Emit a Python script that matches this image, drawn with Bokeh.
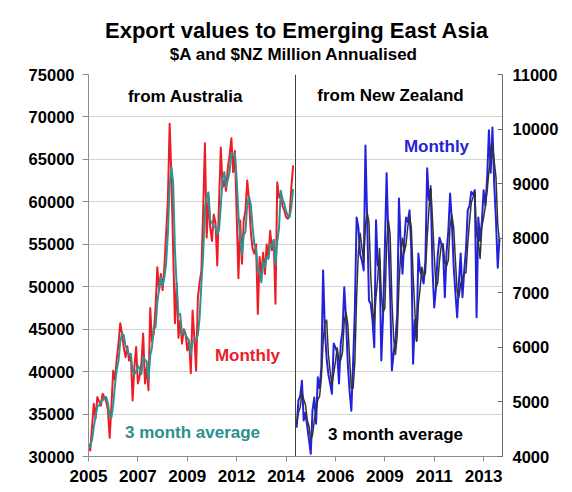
from bokeh.plotting import figure
from bokeh.layouts import column
from bokeh.models import Range1d, LinearAxis, FixedTicker, Span, Label
from bokeh.embed import file_html
from bokeh.resources import INLINE

# ---------------- data ----------------
# Australia: monthly exports to Emerging East Asia, $A million annualised, from Jan 2005
au_monthly = [31500, 30700, 33500, 36200, 34500, 37000, 36500, 36000, 37400, 37000,
              36500, 35500, 32200, 36000, 40100, 39000, 41500, 43300, 45700, 44500,
              42800, 41700, 43000, 41300, 42000, 36600, 40500, 42900, 38600, 39500,
              41000, 44500, 38600, 40500, 37800, 47500, 43500, 44500, 47500, 52300,
              49500, 51500, 49600, 52300, 56300, 60200, 69200, 63000, 54300, 45700,
              50400, 44000, 46000, 43300, 45000, 44500, 42500, 43700, 39800, 47200,
              44000, 40100, 48700, 50500, 51900, 59000, 66900, 55800, 60500, 57000,
              55400, 58500, 57500, 52500, 60000, 66400, 61700, 62500, 61300, 64000,
              65500, 67500, 63500, 66000, 58500, 51000, 57800, 52700, 57800, 59000,
              62500, 60200, 56500, 54500, 53900, 55000, 46800, 53500, 51300, 54000,
              51500, 55000, 53500, 56600, 54300, 55500, 48000, 62300, 60500, 61000,
              59500, 59000, 58200, 58000, 58500, 61700, 64300]
au_avg3 = [31000, 31200, 32000, 33500, 34700, 35900, 36000, 36500, 36600, 37000,
           37000, 36300, 34700, 34600, 36100, 38400, 40200, 41300, 43500, 44500,
           44300, 43000, 42500, 42000, 42100, 40000, 39700, 40000, 40700, 40300,
           39700, 41700, 41400, 41200, 39000, 41900, 42900, 45200, 45200, 48100,
           49800, 51100, 50100, 51100, 52700, 56300, 61900, 64100, 62200, 54300,
           50100, 46700, 46800, 44400, 44800, 44300, 44000, 43600, 42000, 43600,
           43700, 43800, 44300, 46400, 50400, 53800, 59300, 60600, 61100, 57800,
           57600, 57000, 57100, 56200, 56700, 59600, 62700, 63500, 61800, 62600,
           63600, 65700, 65500, 65700, 62700, 58500, 55800, 53800, 56100, 56500,
           59800, 60600, 59700, 57100, 55000, 54500, 51900, 51800, 50500, 52900,
           52300, 53500, 53300, 55000, 54800, 55500, 52600, 55300, 56900, 61300,
           60300, 59800, 58900, 58400, 58200, 59400, 61500]

# New Zealand: monthly exports to Emerging East Asia, $NZ million annualised
nz_monthly = [4530, 5030, 5100, 5390, 4660, 4800, 4550, 4300, 4050, 4850,
              5080, 4600, 5450, 5250, 5630, 7410, 6310, 5800, 5500, 5340,
              5150, 6070, 6000, 5900, 5340, 6070, 6310, 7100, 6500, 5700,
              5200, 4840, 5700, 6680, 8380, 8200, 7700, 7590, 7410, 9700,
              8300, 6860, 6800, 6500, 6000, 8330, 7500, 7600, 5760, 6600,
              7800, 9190, 8000, 6990, 5580, 5900, 6130, 6600, 8730, 7900,
              7350, 7950, 8380, 8300, 8510, 7800, 5700, 6500, 6130, 7720,
              7400, 7300, 7170, 7600, 9280, 8700, 8900, 7460, 6730, 7100,
              7700, 8010, 7900, 7800, 6920, 7750, 8140, 8820, 8300, 7500,
              7000, 6550, 7200, 7720, 6920, 7400, 7800, 8510, 8600, 8850,
              8800, 8880, 6550, 8380, 7950, 8300, 8880, 8600, 9100, 9980,
              9200, 10030, 9000, 8330, 7460, 8010]
nz_avg3 = [4600, 4800, 4900, 5170, 5050, 4950, 4670, 4550, 4300, 4400,
           4660, 4840, 5040, 5100, 5440, 6100, 6450, 6500, 5870, 5550,
           5330, 5520, 5740, 5990, 5750, 5770, 5910, 6490, 6640, 6430,
           5800, 5250, 5250, 5740, 6920, 7750, 8090, 7830, 7570, 8230,
           8470, 8290, 7320, 6720, 6430, 6940, 7280, 7810, 6950, 6650,
           6720, 7860, 8330, 8060, 6860, 6160, 5870, 6210, 7150, 7740,
           8000, 7730, 7890, 8210, 8400, 8200, 7340, 6670, 6110, 6780,
           7080, 7470, 7290, 7360, 8020, 8530, 8960, 8350, 7700, 7100,
           7180, 7600, 7870, 7900, 7540, 7490, 7600, 8240, 8420, 8210,
           7600, 7020, 6920, 7160, 7280, 7350, 7370, 7900, 8300, 8650,
           8750, 8840, 8080, 7940, 7630, 8210, 8380, 8590, 8860, 9230,
           9430, 9740, 9410, 9120, 8260, 7930]

# x-axis tick labels (one label every 28 months, both panels share one category axis)
x_ticks = [0, 28, 56, 84, 112, 140, 168, 196, 224]
x_tick_labels = ["2005", "2007", "2009", "2012", "2014", "2006", "2009", "2011", "2013"]
au_y_ticks = [30000, 35000, 40000, 45000, 50000, 55000, 60000, 65000, 70000, 75000]
nz_y_ticks = [4000, 5000, 6000, 7000, 8000, 9000, 10000, 11000]

title_text = "Export values to Emerging East Asia"
subtitle_text = "$A and $NZ Million Annualised"

NZ_OFFSET = 118          # month slot where the NZ panel starts
DIVIDER = 117.35         # panel divider position on the shared category axis

au_x = list(range(len(au_monthly)))
nz_x = [NZ_OFFSET + i for i in range(len(nz_monthly))]

FONT = "Liberation Sans"

# ---------------- title strip ----------------
TH = 64
tf = figure(width=572, height=TH, output_backend="svg", toolbar_location=None,
            x_range=Range1d(0, 572), y_range=Range1d(TH, 0), title=None,
            x_axis_location=None, y_axis_location=None, min_border=0)
tf.grid.visible = False
tf.outline_line_color = None
tf.background_fill_color = "white"
tf.border_fill_color = "white"
tf.add_layout(Label(x=288, y=30, text=title_text, text_color="black", text_font=FONT,
                    text_font_style="bold", text_font_size="22px",
                    text_align="center", text_baseline="alphabetic"))
tf.add_layout(Label(x=284, y=54, text=subtitle_text, text_color="black", text_font=FONT,
                    text_font_style="bold", text_font_size="17px",
                    text_align="center", text_baseline="alphabetic"))

# ---------------- main figure ----------------
p = figure(width=572, height=492 - TH, output_backend="svg", toolbar_location=None,
           x_range=Range1d(0, 234.7), y_range=Range1d(30000, 75000), title=None,
           min_border_left=88, min_border_right=70, min_border_top=74 - TH,
           min_border_bottom=36)
p.background_fill_color = "white"
p.border_fill_color = "white"
p.outline_line_color = None
p.extra_y_ranges = {"nz": Range1d(4000, 11000)}

# grid
p.xgrid.visible = False
p.ygrid.grid_line_color = "#D4D4D4"
p.ygrid.grid_line_width = 1
p.ygrid.ticker = FixedTicker(ticks=au_y_ticks)

# left axis
ya = p.yaxis[0]
ya.ticker = FixedTicker(ticks=au_y_ticks)
ya.axis_line_color = "#8C8C8C"
ya.major_tick_line_color = "#8C8C8C"
ya.major_tick_out = 6
ya.major_tick_in = 0
ya.minor_tick_line_color = None
ya.major_label_standoff = 8
ya.major_label_text_font = FONT
ya.major_label_text_font_style = "bold"
ya.major_label_text_font_size = "16.5px"
ya.major_label_text_color = "black"

# bottom axis
xa = p.xaxis[0]
xa.ticker = FixedTicker(ticks=x_ticks)
xa.major_label_overrides = {t: lab for t, lab in zip(x_ticks, x_tick_labels)}
xa.axis_line_color = "#8C8C8C"
xa.major_tick_line_color = "#8C8C8C"
xa.major_tick_out = 5
xa.major_tick_in = 0
xa.minor_tick_line_color = None
xa.major_label_standoff = 8
xa.major_label_text_font = FONT
xa.major_label_text_font_style = "bold"
xa.major_label_text_font_size = "17px"
xa.major_label_text_color = "black"

# right axis (NZ)
ra = LinearAxis(y_range_name="nz", ticker=FixedTicker(ticks=nz_y_ticks))
ra.axis_line_color = "#6E6E6E"
ra.major_tick_line_color = "#6E6E6E"
ra.major_tick_in = 5
ra.major_tick_out = 0
ra.minor_tick_line_color = None
ra.major_label_standoff = 10
ra.major_label_text_font = FONT
ra.major_label_text_font_style = "bold"
ra.major_label_text_font_size = "16.5px"
ra.major_label_text_color = "black"
p.add_layout(ra, "right")

# divider between panels
p.add_layout(Span(location=DIVIDER, dimension="height", line_color="#404040", line_width=1))

# series
p.line(au_x, au_monthly, line_color="#EE1C25", line_width=2, line_join="round")
p.line(au_x, au_avg3, line_color="#2E9393", line_width=2, line_join="round")
p.line(nz_x, nz_monthly, y_range_name="nz", line_color="#2222DD", line_width=2, line_join="round")
p.line(nz_x, nz_avg3, y_range_name="nz", line_color="#333333", line_width=1.5, line_join="round")

# texts (screen units, relative to the plot frame)
def add_text(x, y, txt, color, size):
    p.add_layout(Label(x=x, y=y, x_units="screen", y_units="screen", text=txt,
                       text_color=color, text_font=FONT, text_font_style="bold",
                       text_font_size=size, text_align="center", text_baseline="middle"))

add_text(97, 360, "from Australia", "black", "17px")
add_text(302, 361, "from New Zealand", "black", "17px")
add_text(159, 101, "Monthly", "#E8202A", "17px")
add_text(104, 24, "3 month average", "#2E8E8E", "17px")
add_text(348, 310, "Monthly", "#2525D0", "17px")
add_text(307, 22, "3 month average", "black", "17px")

open("out.html", "w").write(file_html(column(tf, p, spacing=0), INLINE))
